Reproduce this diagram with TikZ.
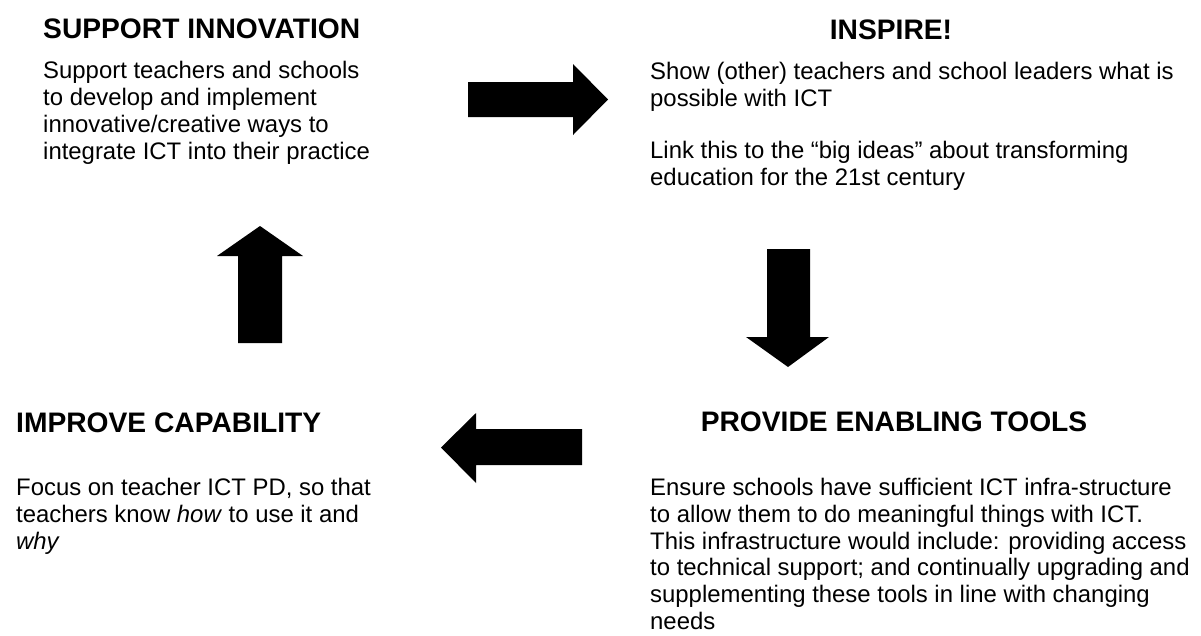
\documentclass[tikz,border=0pt]{standalone}
\usepackage{fontspec}
\setmainfont{Liberation Sans}
\begin{document}
\begin{tikzpicture}[x=1pt,y=-1pt,
  hd/.style={font=\fontsize{28.2}{30}\selectfont\bfseries, inner sep=0},
  bd/.style={font=\fontsize{23.9}{26.8}\selectfont, align=left, inner sep=0, anchor=base west},
  blockarrow/.style={fill=black, draw=none}]
\useasboundingbox (0,0) rectangle (1201,635);
% headings
\node[hd, anchor=base west] (h1) at (43,38) {SUPPORT INNOVATION};
\node[hd, anchor=base] (h2) at (891,39) {INSPIRE!};
\node[hd, anchor=base west] (h3) at (16,432) {IMPROVE CAPABILITY};
\node[hd, anchor=base] (h4) at (894,431) {PROVIDE ENABLING TOOLS};
% bodies (anchored at the baseline of their last line)
\node[bd] (b1) at (43,159) {Support teachers and schools\\to develop and implement\\innovative/creative ways to\\integrate ICT into their practice};
\node[bd] (b2a) at (650,106) {Show (other) teachers and school leaders what is\\possible with ICT};
\node[bd] (b2b) at (650,185.5) {Link this to the “big ideas” about transforming\\education for the 21st century};
\node[bd] (b3) at (16,549.5) {Focus on teacher ICT PD, so that\\teachers know \textit{how} to use it and\\\textit{why}};
\node[bd] (b4) at (650,629.5) {Ensure schools have sufficient ICT infra-structure\\to allow them to do meaningful things with ICT.\\This infrastructure would include: providing access\\to technical support; and continually upgrading and\\supplementing these tools in line with changing\\needs};
% block arrows
\fill[blockarrow] (468,82) -- (573,82) -- (573,64) -- (608,99.5) -- (573,135) -- (573,117) -- (468,117) -- cycle;
\fill[blockarrow] (767,249) -- (810,249) -- (810,337) -- (829,337) -- (788,367) -- (746,337) -- (767,337) -- cycle;
\fill[blockarrow] (582,429) -- (476,429) -- (476,413) -- (441,447.5) -- (476,483) -- (476,465) -- (582,465) -- cycle;
\fill[blockarrow] (238,343) -- (238,256) -- (217,256) -- (260,226) -- (303,256) -- (282,256) -- (282,343) -- cycle;
\end{tikzpicture}
\end{document}
